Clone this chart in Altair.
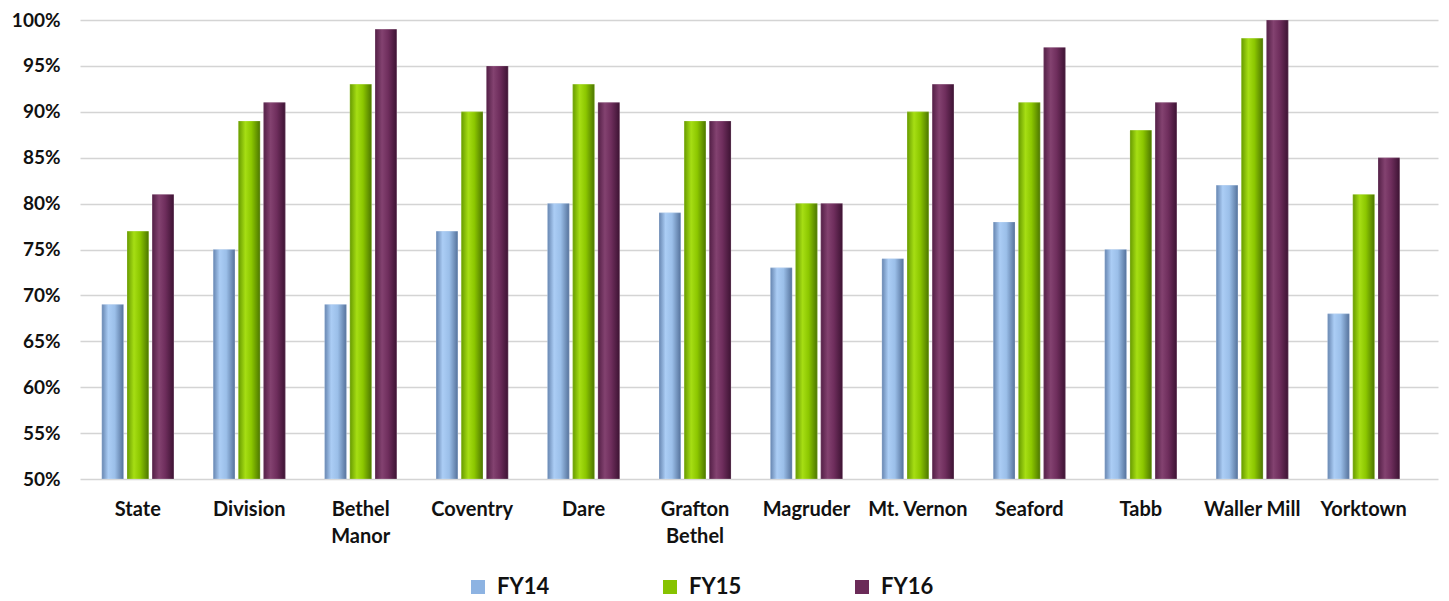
import altair as alt
import pandas as pd

categories = ["State", "Division", "Bethel Manor", "Coventry", "Dare", "Grafton Bethel",
              "Magruder", "Mt. Vernon", "Seaford", "Tabb", "Waller Mill", "Yorktown"]
series = ["FY14", "FY15", "FY16"]
fy14 = [69, 75, 69, 77, 80, 79, 73, 74, 78, 75, 82, 68]
fy15 = [77, 89, 93, 90, 93, 89, 80, 90, 91, 88, 98, 81]
fy16 = [81, 91, 99, 95, 91, 89, 80, 93, 97, 91, 100, 85]
y_ticks = [50, 55, 60, 65, 70, 75, 80, 85, 90, 95, 100]

solid = ["#8db3e2", "#86c300", "#6b2b58"]
grad_stops = {
    "FY14": [("#6685b0", 0.0), ("#abcdf5", 0.3), ("#9bbfe9", 0.6), ("#55729b", 1.0)],
    "FY15": [("#679a00", 0.0), ("#a6de14", 0.32), ("#8cc700", 0.6), ("#4c7600", 1.0)],
    "FY16": [("#531f46", 0.0), ("#834270", 0.32), ("#6f2e5d", 0.6), ("#3d1333", 1.0)],
}

rows = []
for s, vals in zip(series, [fy14, fy15, fy16]):
    for c, v in zip(categories, vals):
        rows.append({"category": c, "series": s, "value": v})
df = pd.DataFrame(rows)

FONT = "Lato"

x_enc = alt.X("category:N", sort=categories,
              scale=alt.Scale(paddingInner=0.354, paddingOuter=0.27, align=0.363),
              axis=alt.Axis(title=None, labelAngle=0, labelFontSize=20, labelFont=FONT,
                            labelFontWeight="bold", labelColor="#111111", labelPadding=20,
                            labelLineHeight=27, domain=False, ticks=False,
                            labelExpr="(datum.label == 'Bethel Manor' || datum.label == 'Grafton Bethel') ? split(datum.label, ' ') : datum.label"))
xo_enc = alt.XOffset("series:N", sort=series,
                     scale=alt.Scale(domain=series, paddingInner=0.14, paddingOuter=0))
y_enc = alt.Y("value:Q",
              scale=alt.Scale(domain=[50, 100], zero=False, nice=False),
              axis=alt.Axis(title=None, values=y_ticks, labelFontSize=19, labelFont=FONT,
                            labelFontWeight="bold", labelColor="#111111", labelPadding=20,
                            labelExpr="datum.value + '%'", domain=False, ticks=False,
                            gridColor="#d4d4d4", gridWidth=1.5))

base = alt.Chart(df).mark_bar().encode(
    x=x_enc, xOffset=xo_enc, y=y_enc, y2=alt.datum(50),
    color=alt.Color("series:N", sort=series,
                    scale=alt.Scale(domain=series, range=solid),
                    legend=alt.Legend(title=None, orient="none", direction="horizontal",
                                      legendX=387, legendY=556, symbolType="square",
                                      symbolSize=196, symbolStrokeWidth=0,
                                      labelFontSize=22, labelFont=FONT, labelFontWeight="bold",
                                      labelColor="#111111", labelOffset=8,
                                      columnPadding=109, labelLimit=200)),
)

layers = [base]
for s in series:
    g = alt.Gradient(gradient="linear", x1=0, x2=1, y1=0, y2=0,
                     stops=[alt.GradientStop(color=c, offset=o) for c, o in grad_stops[s]])
    layers.append(
        alt.Chart(df).transform_filter(alt.datum.series == s).mark_bar(
            color=g, stroke="#ffffff", strokeOpacity=0.35, strokeWidth=0.6
        ).encode(x=x_enc, xOffset=xo_enc, y=y_enc, y2=alt.datum(50))
    )

chart = alt.layer(*layers).properties(
    width=1358, height=459,
    autosize=alt.AutoSizeParams(type="none"),
    padding={"left": 72, "top": 12, "right": 3, "bottom": 122},
).configure_view(stroke=None)

chart.save("out.html", embed_options={"renderer": "svg", "actions": False})
